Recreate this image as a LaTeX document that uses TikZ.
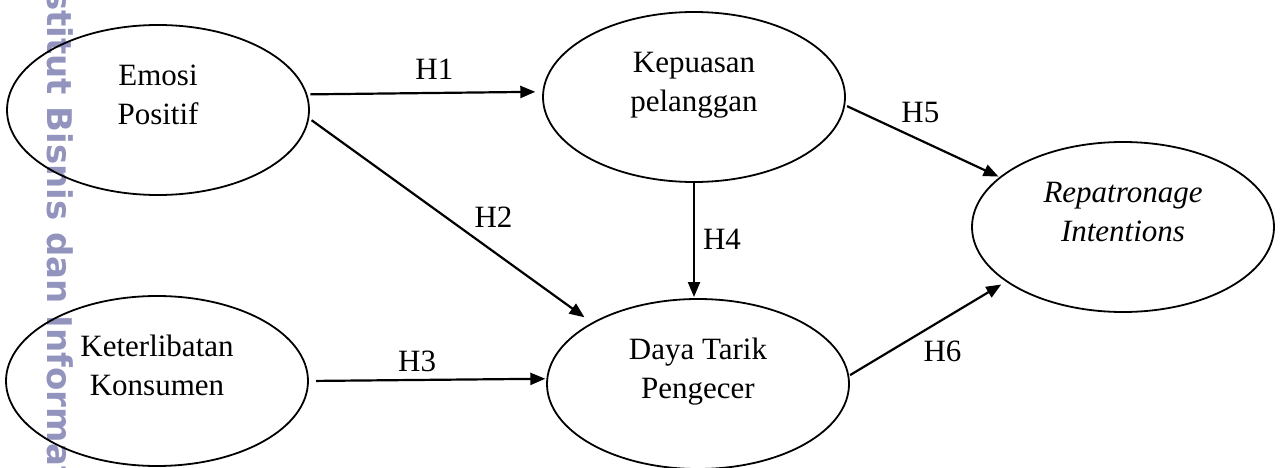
\documentclass[tikz,border=0pt]{standalone}
\usepackage{fontspec}
\setmainfont{Liberation Serif}
\newfontfamily\wmfont{DejaVu Sans}
\usetikzlibrary{arrows.meta,shapes.geometric}
\definecolor{wmcol}{RGB}{146,148,190}
\newcommand\twolines[2]{\rule[-9pt]{0pt}{30pt}#1\\\rule[-31pt]{0pt}{52pt}#2}
\begin{document}
\begin{tikzpicture}[x=1pt,y=-1pt,
  var/.style={ellipse, draw, line width=1.8pt, minimum width=302pt, minimum height=170pt,
    inner sep=0pt, outer sep=0pt, align=center, font=\fontsize{31}{39}\selectfont},
  arr/.style={line width=2.2pt, -{Triangle[length=15pt,width=12pt]}},
  hl/.style={anchor=base, inner sep=0pt, font=\fontsize{31}{37}\selectfont},
  wmark/.style={text=wmcol, rotate=-90, anchor=base west, inner sep=0pt,
    font=\wmfont\bfseries\fontsize{34}{40}\selectfont}]
\useasboundingbox (0,0) rectangle (1283,468);
% watermark
\node[wmark] (wm) at (47,-10) {stitut Bisnis dan Informat};
% variables
\node[var] (emo) at (158,110) {\twolines{Emosi}{Positif}};
\node[var] (ket) at (157,381) {\twolines{Keterlibatan}{Konsumen}};
\node[var] (kep) at (694,97) {\twolines{Kepuasan}{pelanggan}};
\node[var] (day) at (698,384) {\twolines{Daya Tarik}{Pengecer}};
\node[var] (rep) at (1123,227) {\twolines{\textit{Repatronage}}{\textit{Intentions}}};
% hypotheses
\draw[arr, shorten <=4pt, shorten >=8pt] (emo.6.55) -- node[hl, xshift=9.5pt, yshift=14pt] (h1) {H1} (kep.178.5);
\draw[arr, shorten <=4pt, shorten >=10pt] (emo.357.9) -- node[hl, xshift=43pt, yshift=-7pt] (h2) {H2} (day.150.7);
\draw[arr, shorten <=8pt, shorten >=2pt] (ket.east) -- node[hl, xshift=-10.5pt, yshift=8pt] (h3) {H3} (day.178.9);
\draw[arr, shorten <=1pt, shorten >=2pt] (kep.south) -- node[hl, xshift=28pt, yshift=-9pt] (h4) {H4} (kep.south |- day.north);
\draw[arr, shorten <=3pt, shorten >=2pt] (kep.357.45) -- node[hl, xshift=-2pt, yshift=19pt] (h5) {H5} (rep.158.3);
\draw[arr, shorten <=2pt, shorten >=6.4pt] (day.3.05) -- node[hl, xshift=15pt, yshift=-33pt] (h6) {H6} (rep.205.3);
\end{tikzpicture}
\end{document}
